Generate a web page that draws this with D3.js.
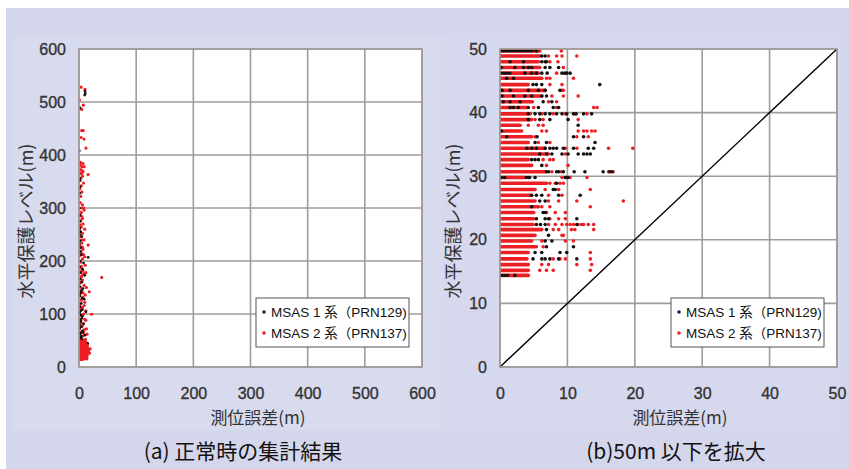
<!DOCTYPE html>
<html>
<head>
<meta charset="utf-8">
<script src="https://cdn.jsdelivr.net/npm/d3@7"></script>
<style>
	body { margin: 0; background: #fff; }
	svg { display: block; }
</style>
</head>
<body>
<div id="main_node"></div>
<script>
// HPL rows (m) seen in the zoomed panel, top to bottom
var rowHPL = [49.7, 48.9, 48.0, 47.1, 46.2, 45.4, 44.4, 43.5, 42.6, 41.7, 40.8, 39.8, 38.9, 38.0, 37.1, 36.2, 35.3, 34.4, 33.5, 32.6,
	31.7, 30.7, 29.8, 28.9, 27.9, 27.0, 26.1, 25.2, 24.3, 23.3, 22.4, 21.6, 20.7, 19.8, 18.9, 18.0, 17.0, 16.1, 15.2, 14.4];

// end of the solid red band of MSAS 2 points on each row (error, m)
var redRunEnd = [5.9, 5.9, 5.7, 5.9, 5.7, 6.2, 4.2, 6.7, 6.2, 4.8, 4.0, 4.2, 4.7, 3.0, 3.2, 4.7, 4.2, 6.7, 7.2, 4.2,
	4.7, 6.7, 3.7, 6.9, 5.2, 4.7, 5.2, 5.7, 5.0, 5.0, 4.9, 6.2, 5.2, 4.7, 5.2, 4.2, 4.0, 4.2, 4.2, 4.2];

// end of a solid black band of MSAS 1 points (0 = none)
var blackRunEnd = [5.0, 0, 0, 0, 1.5, 0, 0, 0, 0, 0, 0, 0, 0, 0, 0, 0, 0, 0, 0, 0,
	0, 0, 0, 0, 0, 0, 0, 0, 0, 0, 0, 0, 0, 0, 0, 0, 0, 0, 0, 1.2];

// single MSAS 1 points on each row (error, m)
var blackDots = [
	[5.4], [6.2, 6.7], [1.5, 3.5, 6.2, 6.7, 6.9], [0.2, 2.2, 3.5, 4.2, 4.7, 6.7, 7.4, 8.7],
	[3.7, 4.7, 5.4, 6.2, 7.0, 9.2, 9.6, 9.9, 10.4], [1.0, 2.0], [4.9, 5.4, 6.2, 14.8], [0.3, 1.5, 4.2, 5.7, 6.7, 8.9],
	[0.3, 2.0, 3.7, 4.7, 6.2, 6.9], [0.5, 1.5, 3.0, 6.4, 7.7], [1.5, 2.0, 2.7, 4.2, 5.7, 7.9, 8.7],
	[4.2, 5.2, 5.9, 6.7, 7.4, 8.4, 9.2, 9.9, 10.9, 11.3, 12.4, 13.6], [4.2, 5.9, 7.4, 10.1], [11.6], [0.2],
	[1.0, 5.5, 10.9, 12.4], [5.2, 6.9, 14.1], [4.0, 4.7, 5.4, 6.7, 7.4, 7.9, 8.4, 9.4, 10.9, 13.1, 13.9],
	[5.9, 6.9, 7.7, 9.2, 10.1, 11.6, 12.4, 12.9, 13.4], [4.7, 5.2, 5.7], [6.2],
	[6.9, 7.2, 8.4, 8.7, 9.4, 11.0, 12.6, 15.3, 16.3, 16.6], [0.2, 0.7, 3.9, 4.2, 4.4, 5.2, 9.7, 9.9, 10.1], [8.4],
	[7.9, 8.2], [4.7, 5.4, 6.2, 8.7, 11.9], [5.9, 6.7], [4.7], [6.4, 6.7], [5.4, 6.7, 7.2, 11.4],
	[5.4, 6.0, 6.7, 11.4], [6.9], [7.2], [6.7, 7.7], [6.9, 10.9], [5.2, 6.2, 8.9, 9.9],
	[4.9, 6.2, 6.7, 7.4, 8.7, 11.4], [], [], [2.2]
];

// single MSAS 2 points on each row beyond the band (error, m)
var redDots = [
	[9.1], [7.2, 8.4, 9.2, 11.4], [7.4, 8.6], [9.4], [8.4], [6.9, 7.4, 10.9], [7.4, 9.2], [9.2, 9.4],
	[7.7, 9.4, 11.6], [7.2, 8.4], [5.0, 8.4, 13.9, 14.4], [4.5, 6.2, 7.9, 9.7, 11.1, 12.9], [5.2, 6.4, 11.6],
	[4.2, 5.7, 6.4], [6.2, 6.9, 11.6, 12.4, 12.9, 13.6, 14.1], [5.2, 11.4, 13.1], [5.7, 7.4],
	[9.7, 11.4, 16.1, 19.7], [9.7], [6.4, 7.4, 7.9], [6.9, 10.1], [7.7, 9.1, 16.1, 16.8], [9.2, 10.4, 12.9],
	[7.4, 8.2, 8.9, 9.4], [6.7, 8.7, 13.4], [7.2, 9.2], [7.2, 8.7, 11.4, 18.3], [6.2, 7.4, 13.4],
	[6.9, 8.2, 9.7], [7.4, 8.7, 9.7], [7.2, 8.2, 9.2, 9.9, 10.4, 10.9, 11.6, 12.1, 12.4, 13.1, 13.9],
	[7.9, 8.7, 10.6, 11.1, 13.9], [9.2, 9.4], [6.2, 9.7, 10.9], [5.4, 6.4], [13.4], [7.9, 8.9, 9.7, 13.4],
	[6.2, 7.2, 11.4, 13.6], [5.9, 6.9, 7.9, 13.4], []
];

// MSAS 1 points above 50 m HPL, [error, HPL]
var upperBlack = [[10.5, 520], [11, 516], [10, 513], [1.7, 489], [0.6, 408], [1.5, 356], [0.8, 351], [2, 340],
	[1.2, 328], [0.5, 300], [1.5, 286], [2.5, 275], [1, 262], [3, 255], [1.5, 250], [5, 246], [2, 238], [0.8, 232],
	[16, 207], [3, 225], [1.5, 218], [4, 212], [2, 200], [8, 196], [1, 188], [6, 184], [3, 178], [10, 173],
	[2, 166], [5, 160], [1, 152], [7, 148], [3, 140], [1.5, 134], [9, 128], [4, 120], [2, 114], [6, 108],
	[1, 102], [3, 98], [5, 92], [2, 86], [8, 82], [4, 76], [1, 72], [6, 68], [3, 64], [10, 60], [2, 56],
	[5, 53], [7, 66], [4, 58], [2, 62], [1, 80], [3, 88], [6, 96], [2, 106], [4, 144], [12, 104], [5, 130]];

// MSAS 2 points above 50 m HPL, [error, HPL]
var upperRed = [[3.5, 528], [10.5, 524], [0.6, 504], [7.5, 494], [4.7, 486], [4.7, 446], [7.5, 446], [3.5, 433],
	[8.7, 430], [12.2, 413], [2, 381], [5, 378], [9, 378], [4, 372], [7, 369], [16, 363], [3, 365], [6, 360],
	[2, 352], [8, 347], [4, 342], [1.5, 336], [5, 330], [3, 386], [3, 322], [2, 310], [6, 306], [4, 300],
	[9, 296], [8, 300], [3, 290], [5, 284], [2, 276], [7, 270], [4, 264], [10, 260], [1, 258], [6, 252],
	[3, 246], [9, 240], [5, 234], [16, 230], [2, 228], [6, 226], [7, 222], [4, 216], [8, 212], [10, 208],
	[1, 210], [6, 204], [3, 198], [11, 192], [5, 186], [2, 180], [12, 178], [8, 176], [39.7, 169], [4, 170],
	[6, 164], [1, 158], [9, 154], [13, 150], [3, 150], [18, 142], [5, 144], [2, 138], [11, 136], [7, 132],
	[4, 126], [10, 122], [1, 118], [9, 116], [6, 112], [3, 106], [12, 106], [22, 99.5], [8, 100], [5, 96],
	[2, 90], [10, 90], [12, 88], [4, 84], [7, 80], [5, 76], [1, 74], [13, 72], [9, 70], [3, 66], [8, 64],
	[14, 62], [6, 58], [2, 54], [11, 52], [4, 110], [7, 140], [3, 160], [5, 172], [4, 190], [7, 182],
	[3, 218], [5, 240], [2, 268], [6, 280], [4, 292], [3, 356], [5, 366], [2, 372], [7, 384]];

var tickA = [0, 100, 200, 300, 400, 500, 600];
var tickB = [0, 10, 20, 30, 40, 50];
var seriesNames = ["MSAS 1 系（PRN129)", "MSAS 2 系（PRN137)"];
var seriesColors = ["#111111", "#ec1f25"];

var numFont = "'Liberation Sans', Arial, 'Noto Sans CJK JP', sans-serif";
var jpFont = "'Noto Sans CJK JP', sans-serif";
var gridColor = "#a19c97";

var svg = d3.select("#main_node")
	.append("svg")
	.attr("width", 849)
	.attr("height", 469);

svg.append("rect").attr("width", 849).attr("height", 469).attr("fill", "#fff");
svg.append("rect").attr("x", 6).attr("y", 8).attr("width", 843).attr("height", 461).attr("fill", "#d4d6eb");
svg.append("rect").attr("x", 13).attr("y", 37).attr("width", 429).attr("height", 393).attr("fill", "#d8daee");
svg.append("rect").attr("x", 442).attr("y", 37).attr("width", 400).attr("height", 393).attr("fill", "#d6d8ed");

function drawPanel(opt) {
	var x = d3.scaleLinear().domain([0, opt.max]).range([opt.left, opt.right]);
	var y = d3.scaleLinear().domain([0, opt.max]).range([367, 49]);
	var g = svg.append("g");

	g.append("rect")
		.attr("x", opt.left)
		.attr("y", 49)
		.attr("width", opt.right - opt.left)
		.attr("height", 318)
		.attr("fill", "#fff");

	g.selectAll(".vgrid")
		.data(opt.ticks)
		.enter()
		.append("line")
		.attr("x1", function (d) { return x(d); })
		.attr("x2", function (d) { return x(d); })
		.attr("y1", 49)
		.attr("y2", 367)
		.attr("stroke", gridColor)
		.attr("stroke-width", 1.6);

	g.selectAll(".hgrid")
		.data(opt.ticks)
		.enter()
		.append("line")
		.attr("x1", opt.left)
		.attr("x2", opt.right)
		.attr("y1", function (d) { return y(d); })
		.attr("y2", function (d) { return y(d); })
		.attr("stroke", gridColor)
		.attr("stroke-width", 1.6);

	var clipId = "clip" + opt.name;
	svg.append("clipPath")
		.attr("id", clipId)
		.append("rect")
		.attr("x", opt.left)
		.attr("y", 47)
		.attr("width", opt.right - opt.left + 2)
		.attr("height", 322);

	var marks = g.append("g").attr("clip-path", "url(#" + clipId + ")");

	if (opt.diagonal) {
		marks.append("line")
			.attr("x1", x(0))
			.attr("y1", y(0))
			.attr("x2", x(opt.max))
			.attr("y2", y(opt.max))
			.attr("stroke", "#000")
			.attr("stroke-width", 1.4);
	}

	var r = opt.dot;

	var redPts = [];
	var blackPts = [];
	rowHPL.forEach(function (h, i) {
		redDots[i].forEach(function (v) { redPts.push([v, h]); });
		blackDots[i].forEach(function (v) { blackPts.push([v, h]); });
	});

	function drawRows(layer, color, runEnd, pts, width, dash) {
		layer.selectAll(".run")
			.data(rowHPL.filter(function (d, i) { return runEnd[i] > 0; }))
			.enter()
			.append("line")
			.attr("x1", x(0))
			.attr("x2", function (d) { return x(runEnd[rowHPL.indexOf(d)]); })
			.attr("y1", function (d) { return y(d); })
			.attr("y2", function (d) { return y(d); })
			.attr("stroke", color)
			.attr("stroke-width", width)
			.attr("stroke-dasharray", dash)
			.attr("stroke-linecap", "round");
		drawDots(layer, color, pts, r);
	}

	function drawDots(layer, color, pts, rad) {
		layer.selectAll(".pt")
			.data(pts)
			.enter()
			.append("circle")
			.attr("cx", function (d) { return x(d[0]); })
			.attr("cy", function (d) { return y(d[1]); })
			.attr("r", rad)
			.attr("fill", color);
	}

	// in the full view the red series mostly covers the black one,
	// in the zoom the black dots show over the red bands
	if (opt.blackOnTop) {
		drawRows(marks.append("g"), seriesColors[1], redRunEnd, redPts, r * 2, null);
		drawRows(marks.append("g"), seriesColors[0], blackRunEnd, blackPts, r * 1.6, "3,2");
	} else {
		drawRows(marks.append("g"), seriesColors[0], blackRunEnd, blackPts, r * 1.6, "3,2");
		drawRows(marks.append("g"), seriesColors[1], redRunEnd, redPts, r * 2, null);
		drawDots(marks.append("g"), seriesColors[1], upperRed, r);
		drawDots(marks.append("g"), seriesColors[0], upperBlack, r * 0.85);
	}

	// plot frame
	g.append("rect")
		.attr("x", opt.left)
		.attr("y", 49)
		.attr("width", opt.right - opt.left)
		.attr("height", 318)
		.attr("fill", "none")
		.attr("stroke", gridColor)
		.attr("stroke-width", 1.6);

	var yAxis = g.append("g")
		.attr("transform", "translate(" + opt.left + ",0)")
		.call(d3.axisLeft(y).tickValues(opt.ticks).tickSize(0).tickPadding(13));
	var xAxis = g.append("g")
		.attr("transform", "translate(0,367)")
		.call(d3.axisBottom(x).tickValues(opt.ticks).tickSize(0).tickPadding(21));
	[yAxis, xAxis].forEach(function (a) {
		a.select(".domain").remove();
		a.selectAll("text")
			.attr("fill", "#333")
			.attr("stroke", "#333")
			.attr("stroke-width", 0.35)
			.style("font-family", numFont)
			.style("font-size", "16px");
	});

	// axis titles
	g.append("text")
		.attr("x", opt.xTitleX)
		.attr("y", 424)
		.attr("text-anchor", "middle")
		.attr("fill", "#333")
		.style("font-family", jpFont)
		.style("font-size", "17px")
		.text("測位誤差(m)");

	g.append("text")
		.attr("transform", "translate(" + opt.yTitleX + ",221) rotate(-90)")
		.attr("text-anchor", "middle")
		.attr("dy", "0.35em")
		.attr("fill", "#333")
		.style("font-family", jpFont)
		.style("font-size", "18px")
		.text("水平保護レベル(m)");

	g.append("text")
		.attr("x", opt.captionX)
		.attr("y", 459)
		.attr("text-anchor", "middle")
		.attr("fill", "#111")
		.style("font-family", jpFont)
		.style("font-size", "21px")
		.text(opt.caption);

	// legend
	var lg = g.append("g").attr("transform", "translate(" + opt.legendX + ",298)");
	lg.append("rect")
		.attr("width", 153)
		.attr("height", 49)
		.attr("fill", "#fff")
		.attr("stroke", "#555")
		.attr("stroke-width", 1);
	var items = lg.selectAll(".item")
		.data(seriesNames)
		.enter()
		.append("g")
		.attr("transform", function (d, i) { return "translate(0," + (14 + i * 21) + ")"; });
	items.append("circle")
		.attr("cx", 8)
		.attr("cy", 0)
		.attr("r", 1.8)
		.attr("fill", function (d, i) { return i === 0 ? "#1b1f3a" : seriesColors[1]; });
	items.append("text")
		.attr("x", 15)
		.attr("dy", "0.35em")
		.attr("fill", "#111")
		.style("font-family", numFont)
		.style("font-size", "13.5px")
		.text(function (d) { return d; });
}

drawPanel({ name: "a", max: 600, ticks: tickA, left: 79, right: 422, dot: 1.6, diagonal: false, blackOnTop: false,
	xTitleX: 258, yTitleX: 27, caption: "(a) 正常時の集計結果", captionX: 243, legendX: 256 });
drawPanel({ name: "b", max: 50, ticks: tickB, left: 500, right: 837, dot: 1.8, diagonal: true, blackOnTop: true,
	xTitleX: 680, yTitleX: 454, caption: "(b)50m 以下を拡大", captionX: 676, legendX: 671 });
</script>
</body>
</html>
